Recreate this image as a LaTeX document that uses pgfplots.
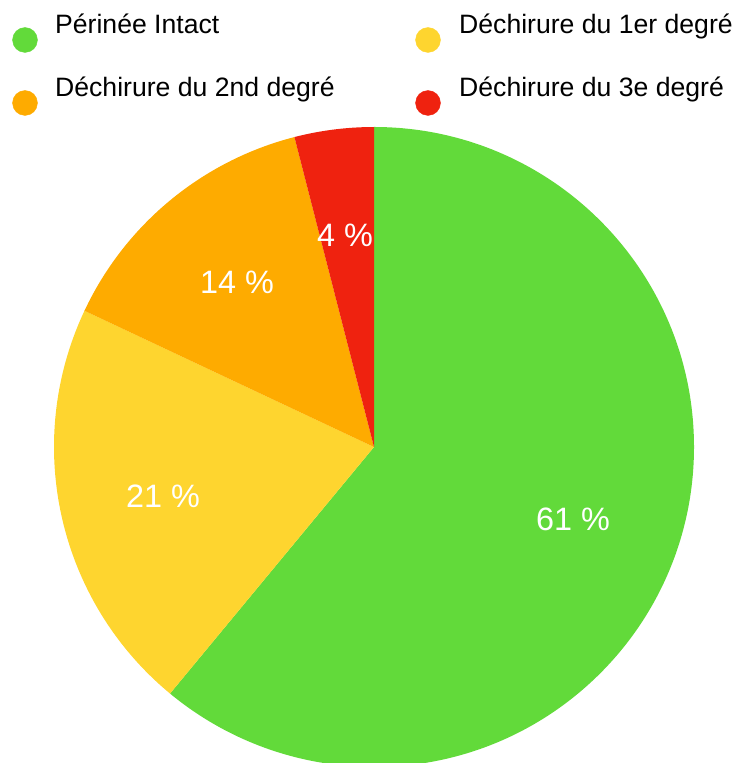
\documentclass[border=0pt]{standalone}
\usepackage{pgfplots}
\pgfplotsset{compat=1.18}
\usepackage{fontspec}
\setmainfont{Liberation Sans}
\definecolor{cgreen}{HTML}{62DA3A}
\definecolor{cyellow}{HTML}{FED52F}
\definecolor{corange}{HTML}{FEAB00}
\definecolor{cred}{HTML}{EF220F}
% values (percent): Perinee intact 61, 1er 21, 2nd 14, 3e 4
\begin{document}
\begin{tikzpicture}
\begin{axis}[
  scale only axis, width=735bp, height=763bp,
  xmin=0, xmax=735, ymin=0, ymax=763,
  hide axis, clip=true,
]
% pie center (374,316), radius 320; start at 90 deg, clockwise
\fill[cgreen] (axis cs:374,316) -- (axis cs:{374+320*cos(90)},{316+320*sin(90)}) arc[start angle=90, end angle={90-3.6*61}, radius=320] -- cycle;
\fill[cyellow] (axis cs:374,316) -- (axis cs:{374+320*cos(90-3.6*61)},{316+320*sin(90-3.6*61)}) arc[start angle={90-3.6*61}, end angle={90-3.6*82}, radius=320] -- cycle;
\fill[corange] (axis cs:374,316) -- (axis cs:{374+320*cos(90-3.6*82)},{316+320*sin(90-3.6*82)}) arc[start angle={90-3.6*82}, end angle={90-3.6*96}, radius=320] -- cycle;
\fill[cred] (axis cs:374,316) -- (axis cs:{374+320*cos(90-3.6*96)},{316+320*sin(90-3.6*96)}) arc[start angle={90-3.6*96}, end angle={90-3.6*100}, radius=320] -- cycle;
% labels
\node[white, font=\fontsize{32.5}{32.5}\selectfont] at (axis cs:573,244) {61 \%};
\node[white, font=\fontsize{32.5}{32.5}\selectfont] at (axis cs:163,267) {21 \%};
\node[white, font=\fontsize{32.5}{32.5}\selectfont] at (axis cs:237,481) {14 \%};
\node[white, font=\fontsize{32.5}{32.5}\selectfont] at (axis cs:345,528) {4 \%};
% legend markers
\addplot[only marks, mark=*, mark size=12.5, color=cgreen] coordinates {(25,723)};
\addplot[only marks, mark=*, mark size=12.5, color=corange] coordinates {(25,660)};
\addplot[only marks, mark=*, mark size=12.5, color=cyellow] coordinates {(428,723)};
\addplot[only marks, mark=*, mark size=12.5, color=cred] coordinates {(428,660)};
% legend text
\node[anchor=base west, inner sep=0pt, font=\fontsize{26.7}{26.7}\selectfont] at (axis cs:55,729) {Périnée Intact};
\node[anchor=base west, inner sep=0pt, font=\fontsize{26.7}{26.7}\selectfont] at (axis cs:55,666) {Déchirure du 2nd degré};
\node[anchor=base west, inner sep=0pt, font=\fontsize{26.7}{26.7}\selectfont] at (axis cs:459,729) {Déchirure du 1er degré};
\node[anchor=base west, inner sep=0pt, font=\fontsize{26.7}{26.7}\selectfont] at (axis cs:459,666) {Déchirure du 3e degré};
\end{axis}
\pgfresetboundingbox
\path (0,0) rectangle (735bp,763bp);
\end{tikzpicture}
\end{document}
